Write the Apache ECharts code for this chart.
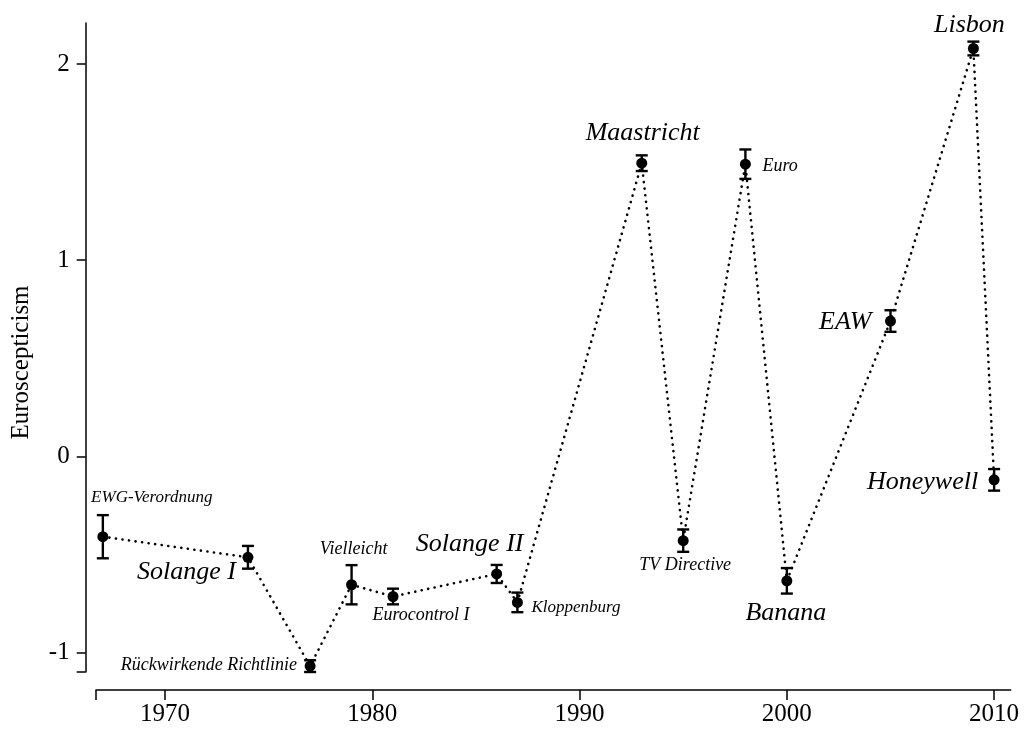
<!DOCTYPE html>
<html>
<head>
<meta charset="utf-8">
<script src="https://cdn.jsdelivr.net/npm/echarts@6/dist/echarts.min.js"></script>
<style>
html,body{margin:0;padding:0;background:#fff;}
#chart{width:1026px;height:732px;}
</style>
</head>
<body>
<div id="chart"></div>
<script>
// ---- data ----
var cases = ['EWG-Verordnung','Solange I','Rückwirkende Richtlinie','Vielleicht','Eurocontrol I','Solange II','Kloppenburg','Maastricht','TV Directive','Euro','Banana','EAW','Lisbon','Honeywell'];
var years = [1967,1974,1977,1979,1981,1986,1987,1993,1995,1998,2000,2005,2009,2010];
var euroscepticism = [-0.41,-0.515,-1.07,-0.655,-0.715,-0.60,-0.745,1.495,-0.43,1.49,-0.635,0.69,2.08,-0.12];
var stdError = [0.11,0.058,0.03,0.10,0.04,0.046,0.05,0.04,0.057,0.075,0.065,0.055,0.035,0.055];
var xTickLabels = [1970,1980,1990,2000,2010];
var yTickLabels = [-1,0,1,2];

// ---- label styling (not data) ----
var labelStyle = [
  ['center', 49, -39, 17],
  ['right', -12, 15, 26],
  ['right', -13, -1, 18],
  ['center', 2, -35, 18],
  ['center', 28, 19, 18],
  ['center', -27, -30, 26],
  ['left', 14, 5, 17],
  ['center', 1, -30, 26],
  ['center', 2, 25, 18],
  ['left', 17, 2, 18],
  ['center', -1, 32, 26],
  ['right', -19, 1, 26],
  ['center', -4, -23, 26],
  ['right', -16, 2, 26]
];

var FONT = 'Liberation Serif';
var xMin = 1966.67, xMax = 2010.8, yMin = -1.10, yMax = 2.21;

var pointData = years.map(function (y, i) {
  var s = labelStyle[i];
  return {
    name: cases[i],
    value: [y, euroscepticism[i]],
    label: {
      show: true,
      position: 'inside',
      align: s[0],
      verticalAlign: 'middle',
      offset: [s[1], s[2]],
      fontSize: s[3],
      color: '#000',
      fontFamily: FONT,
      fontStyle: 'italic'
    }
  };
});
var lineData = years.map(function (y, i) { return [y, euroscepticism[i]]; });
var errData = years.map(function (y, i) { return [y, euroscepticism[i] - stdError[i], euroscepticism[i] + stdError[i]]; });

var chart = echarts.init(document.getElementById('chart'), null, {renderer: 'canvas'});
chart.setOption({
  backgroundColor: '#ffffff',
  animation: false,
  grid: {left: 96, right: 15.3, top: 23, bottom: 60, containLabel: false},
  xAxis: {
    type: 'value', min: xMin, max: xMax, offset: 18,
    splitLine: {show: false},
    axisLine: {show: true, onZero: false, lineStyle: {color: '#000', width: 1.5}},
    axisTick: {show: true, length: 10, lineStyle: {color: '#000', width: 1.5}, customValues: [xMin].concat(xTickLabels)},
    axisLabel: {customValues: xTickLabels, color: '#000', fontFamily: FONT, fontSize: 25, margin: 12, formatter: function (v) { return String(Math.round(v)); }}
  },
  yAxis: {
    type: 'value', min: yMin, max: yMax, offset: 10.3,
    name: 'Euroscepticism', nameLocation: 'middle', nameGap: 52, nameRotate: 90,
    nameTextStyle: {color: '#000', fontFamily: FONT, fontSize: 25, padding: [0, 30, 0, 0]},
    splitLine: {show: false},
    axisLine: {show: true, onZero: false, lineStyle: {color: '#000', width: 1.5}},
    axisTick: {show: true, length: 9, lineStyle: {color: '#000', width: 1.5}, customValues: [yMin].concat(yTickLabels)},
    axisLabel: {customValues: yTickLabels, color: '#000', fontFamily: FONT, fontSize: 25, margin: 16, formatter: function (v) { return String(Math.round(v)); }}
  },
  series: [
    {
      type: 'line', data: lineData, showSymbol: false, silent: true, z: 1,
      lineStyle: {color: '#000', width: 2.6, type: [0.1, 6.5], cap: 'round'}
    },
    {
      type: 'custom', data: errData, z: 2, silent: true,
      renderItem: function (params, api) {
        var x = api.value(0);
        var lo = api.coord([x, api.value(1)]);
        var hi = api.coord([x, api.value(2)]);
        var hw = 6;
        var st = {stroke: '#000', lineWidth: 2.4};
        return {
          type: 'group',
          children: [
            {type: 'line', shape: {x1: lo[0], y1: lo[1], x2: hi[0], y2: hi[1]}, style: st},
            {type: 'line', shape: {x1: lo[0] - hw, y1: lo[1], x2: lo[0] + hw, y2: lo[1]}, style: st},
            {type: 'line', shape: {x1: hi[0] - hw, y1: hi[1], x2: hi[0] + hw, y2: hi[1]}, style: st}
          ]
        };
      }
    },
    {
      type: 'scatter', data: pointData, symbol: 'circle', symbolSize: 11, z: 3,
      itemStyle: {color: '#000', opacity: 1},
      label: {formatter: '{b}', color: '#000', fontFamily: FONT, fontStyle: 'italic'}
    }
  ]
});
</script>
</body>
</html>
